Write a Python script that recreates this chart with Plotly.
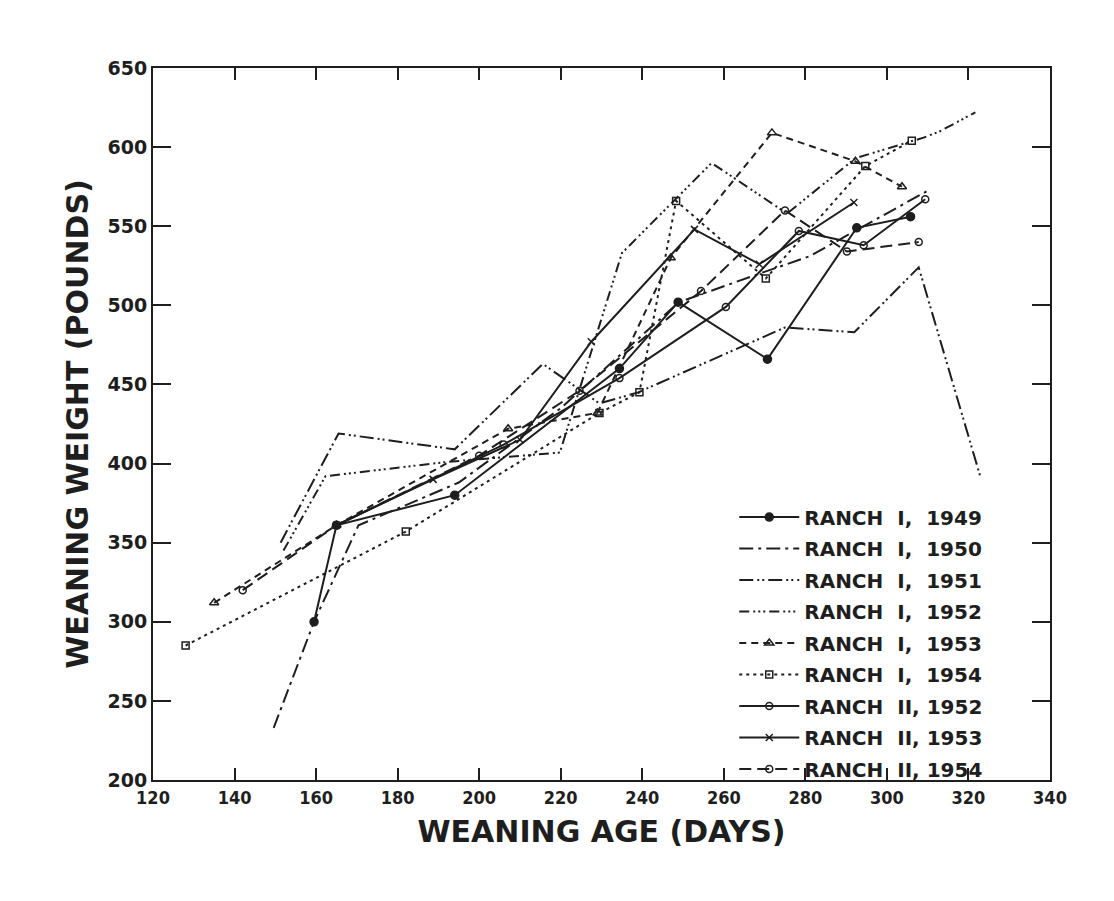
import plotly.graph_objects as go

# ---- data ----
r1_1949_x = [159.5, 165, 194, 234.4, 248.8, 270.7, 292.6, 305.8]
r1_1949_y = [300, 361, 380, 460, 502, 466, 549, 556]

r1_1950_x = [149.6, 159.5, 170.4, 195, 220, 249, 268.7, 281, 309.7]
r1_1950_y = [233, 300, 361, 388, 435, 502, 520, 531, 572]

r1_1951_x = [151.3, 165.5, 194, 215.6, 229.5, 239, 275, 292, 307.8, 323]
r1_1951_y = [350, 419, 409, 463, 438, 445, 486, 483, 524, 391]

r1_1952_x = [152, 162.3, 192, 210, 219.8, 235, 257, 275.5, 292.3, 309, 313, 321.7]
r1_1952_y = [345, 392, 401, 405, 407, 533, 590, 558, 593, 606, 610, 622]

r1_1953_x = [135, 165, 207.1, 229, 247, 271.8, 292.3, 303.7]
r1_1953_y = [312, 361, 422, 432, 530, 609, 591, 575]

r1_1954_x = [128, 182, 229.5, 239.3, 248.3, 270.3, 294.7, 306.1]
r1_1954_y = [285, 357, 432, 445, 566, 517, 588, 604]

r2_1952_x = [165, 206, 234.4, 260.5, 278.4, 294.3, 309.4]
r2_1952_y = [361, 412, 454, 499, 547, 538, 567]

r2_1953_x = [165, 188.7, 210, 227.5, 252.8, 268.7, 291.9]
r2_1953_y = [361, 390, 415, 477, 548, 526, 565]

r2_1954_x = [142, 165, 200, 224.6, 254.4, 275, 290.2, 307.8]
r2_1954_y = [320, 361, 405, 446, 509, 560, 534, 540]

x_ticks = [120, 140, 160, 180, 200, 220, 240, 260, 280, 300, 320, 340]
y_ticks = [200, 250, 300, 350, 400, 450, 500, 550, 600, 650]

INK = "#1e1e1e"
NB = "\u00a0"
L1 = "RANCH" + NB * 2 + "I," + NB * 2
L2 = "RANCH" + NB * 2 + "II," + NB

series = [
    (L1 + "1949", r1_1949_x, r1_1949_y, "solid", "circle", 8),
    (L1 + "1950", r1_1950_x, r1_1950_y, "14px,5px,3px,5px", None, 0),
    (L1 + "1951", r1_1951_x, r1_1951_y, "14px,4px,2px,3px,2px,4px", None, 0),
    (L1 + "1952", r1_1952_x, r1_1952_y, "10px,4px,2px,3px,2px,3px,2px,4px", None, 0),
    (L1 + "1953", r1_1953_x, r1_1953_y, "7px,5px", "triangle-up-open", 8),
    (L1 + "1954", r1_1954_x, r1_1954_y, "3px,4px", "square-open", 7),
    (L2 + "1952", r2_1952_x, r2_1952_y, "solid", "circle-open", 7),
    (L2 + "1953", r2_1953_x, r2_1953_y, "solid", "x-thin-open", 7),
    (L2 + "1954", r2_1954_x, r2_1954_y, "12px,6px", "circle-open", 7),
]

fig = go.Figure()
for i, (name, xs, ys, dash, sym, size) in enumerate(series):
    mode = "lines+markers" if sym else "lines"
    kw = {}
    if sym:
        kw["marker"] = dict(symbol=sym, size=size, color=INK,
                            line=dict(color=INK, width=1.5))
    fig.add_trace(go.Scatter(x=xs, y=ys, name=name, mode=mode, legendgroup=f"g{i}",
                             line=dict(color=INK, width=2, dash=dash), **kw))

axis_common = dict(
    showgrid=False, zeroline=False, showline=True, linecolor=INK, linewidth=2,
    mirror="ticks", ticks="inside", tickcolor=INK, tickwidth=2,
    automargin=False,
)
title_font = dict(family="DejaVu Sans", size=30, color=INK, weight="bold")

fig.update_xaxes(range=[120, 340], tickvals=x_ticks, ticklen=12, **axis_common,
                 tickfont=dict(family="DejaVu Sans Condensed, DejaVu Sans", size=18,
                               color=INK, weight="bold"),
                 title=dict(text="WEANING AGE (DAYS)", standoff=14, font=title_font))
fig.update_yaxes(range=[200, 650], tickvals=y_ticks, ticklen=18, **axis_common,
                 tickfont=dict(family="DejaVu Sans", size=19, color=INK, weight="bold"),
                 title=dict(text="WEANING WEIGHT (POUNDS)", standoff=10, font=title_font))

fig.update_layout(
    width=1114, height=901,
    margin=dict(l=145, r=72, t=60, b=129),
    paper_bgcolor="white", plot_bgcolor="white",
    showlegend=True,
    legend=dict(x=0.648, y=-0.012, xanchor="left", yanchor="bottom",
                bgcolor="rgba(255,255,255,0)", borderwidth=0,
                font=dict(family="DejaVu Sans", size=20, color=INK, weight="bold"),
                itemwidth=60, tracegroupgap=2.5, traceorder="grouped"),
)

fig.write_html("out.html")
